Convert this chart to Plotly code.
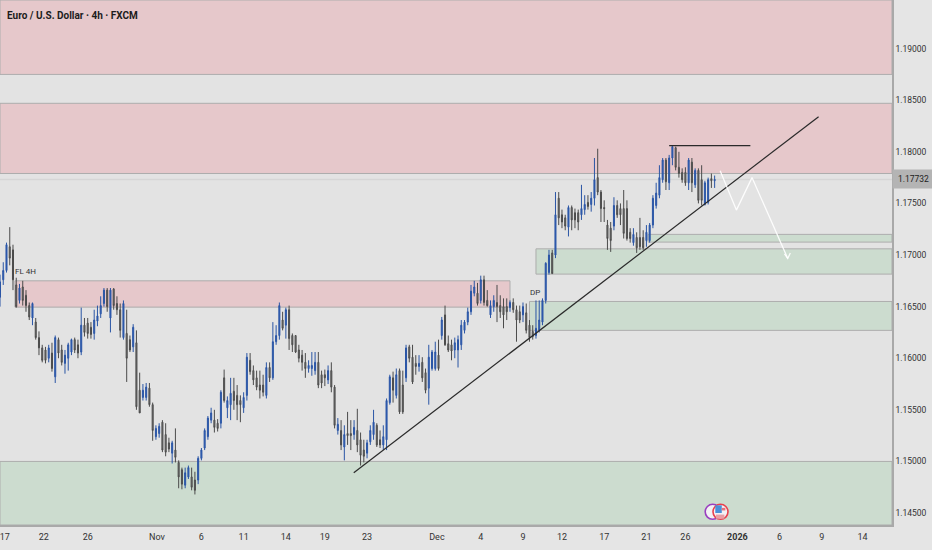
import plotly.graph_objects as go

# Prices are stored as tenths of a pip above 1.1000 (e.g. 656 -> 1.1656)
opens = [659,676,685,708,705,671,656,669,661,651,
 639,635,620,610,608,600,605,582,618,608,
 595,600,606,618,613,606,632,634,630,624,
 636,643,653,666,639,667,653,647,620,624,
 618,611,615,569,562,562,571,555,524,527,
 538,526,518,508,511,499,492,477,485,485,
 482,482,503,513,524,540,540,537,537,581,
 552,555,568,564,559,552,564,598,588,581,
 574,574,564,591,581,616,622,637,632,647,
 622,622,608,603,596,590,590,588,596,584,
 584,579,588,572,530,530,514,527,527,526,
 530,521,511,508,519,526,535,521,516,521,
 557,581,564,588,574,581,611,601,595,592,
 596,586,571,590,590,603,622,642,614,613,
 608,608,613,627,635,645,663,663,656,676,
 656,642,650,654,651,650,650,649,654,647,
 645,642,644,632,626,622,627,635,656,683,
 702,700,755,739,736,727,746,741,741,739,
 744,751,749,755,775,761,746,729,726,728,
 748,745,745,745,722,712,717,717,717,714,
 714,729,748,758,773,792,770,794,804,785,
 780,780,770,790,768,782,773,749,751,774,772.0]
closes = [674,685,710,697,676,650,668,656,651,640,
 653,620,610,598,598,610,590,620,605,596,
 603,613,618,608,605,632,625,624,623,637,
 641,651,666,650,666,651,647,627,653,600,
 608,630,553,547,569,572,555,530,532,534,
 511,509,512,518,504,485,478,489,494,475,
 472,503,511,530,542,547,533,532,567,559,
 559,566,559,555,555,562,601,587,579,572,
 569,567,591,581,616,622,651,629,647,619,
 613,606,600,596,590,593,593,596,574,576,
 581,588,572,535,536,516,526,525,525,533,
 516,506,505,518,530,538,516,516,524,559,
 582,569,584,548,548,610,600,577,592,595,
 581,569,601,606,606,590,637,613,608,607,
 615,618,632,635,645,665,669,653,676,654,
 651,651,656,650,645,642,645,654,647,637,
 637,650,627,620,621,629,637,656,692,700,
 682,739,736,732,728,746,734,734,732,745,
 749,747,755,773,761,745,745,716,714,748,
 739,739,721,716,716,720,707,708,707,722,
 729,755,760,775,792,771,794,805,785,779,
 773,770,792,770,782,753,753,770,773,772,773.2]
highs = [681,693,712,727,710,678,672,675,666,654,
 654,639,626,613,611,613,615,622,620,613,
 608,615,619,620,618,649,639,639,635,647,
 651,660,668,668,668,668,660,653,656,647,
 622,633,627,586,575,576,576,557,535,537,
 540,537,523,520,532,501,494,494,496,494,
 490,505,513,532,544,552,550,541,569,589,
 563,581,581,574,564,567,605,605,593,588,
 588,584,596,596,635,632,654,645,649,651,
 624,622,613,608,605,598,606,606,606,588,
 589,593,596,574,542,540,535,548,540,540,
 551,528,521,521,535,550,537,530,535,561,
 584,587,590,590,588,613,613,613,603,603,
 601,590,613,608,616,618,640,651,622,618,
 620,622,637,637,649,671,675,673,680,680,
 666,656,661,671,661,658,658,656,658,651,
 651,654,653,637,632,656,656,658,693,705,
 705,761,761,744,739,748,748,745,744,768,
 758,758,761,794,803,763,753,734,732,756,
 753,750,763,753,726,726,722,736,724,729,
 731,758,770,787,794,794,797,806,805,800,
 784,785,794,794,784,784,787,772,775,779,777]
lows = [650,671,683,690,666,649,653,651,645,637,
 632,618,603,596,595,596,587,576,600,593,
 585,588,603,605,600,603,621,619,619,618,
 631,639,650,645,625,647,642,620,618,577,
 606,606,550,547,559,559,553,520,521,523,
 509,505,509,498,499,474,473,474,483,472,
 468,478,501,511,521,537,528,529,532,557,
 542,540,550,540,538,547,559,584,574,569,
 561,563,561,577,579,613,618,627,619,608,
 606,605,596,588,581,586,583,584,571,571,
 573,575,567,532,526,511,501,516,511,521,
 509,496,499,503,516,521,514,513,511,511,
 555,557,561,546,546,577,596,575,584,587,
 577,566,555,588,588,588,618,612,606,598,
 600,591,608,624,632,642,660,651,653,651,
 650,639,645,635,639,629,637,645,644,616,
 634,635,624,616,618,619,625,632,653,681,
 682,697,729,726,724,718,724,726,724,734,
 739,744,742,748,758,732,732,705,703,724,
 736,729,716,714,712,709,702,705,705,708,
 712,726,745,755,770,763,763,787,782,775,
 770,767,763,761,765,750,748,748,749,765,765]

x_tick_pos = [1.5,13.5,27,48.3,62,75,88,100,113,134.5,148,161,173,186,199,211,227,240,253,265.5]
x_tick_labels = ["17","22","26","Nov","6","11","14","19","23","Dec","4","9","12","17","21","26","<b>2026</b>","6","9","14"]
y_ticks = [1.145,1.15,1.155,1.16,1.165,1.17,1.175,1.18,1.185,1.19]
x_range = [0, 274.6]
y_range = [1.14384, 1.19471]

last_price = 1.17732
red_zones = [(0,274.6,1.1875,1.19471),(0,274.6,1.1779,1.1847),(4.6,157,1.16495,1.1675)]
green_zones = [(0,274.6,1.14384,1.15),(199.5,274.6,1.17125,1.1720),(165,274.6,1.16815,1.1706),(163,274.6,1.1627,1.1655)]

trend_x = [108.9,252]
trend_y = [1.1489,1.1834]
flat_x = [206,231]
flat_y = [1.1806,1.1806]
path_x = [221.7,226.7,231.5,242.5]
path_y = [1.17816,1.17435,1.1775,1.16967]
head_x = [241.5,242.5,243.3]
head_y = [1.1701,1.16967,1.1702]

def to_price(v):
    return 1.1 + v/10000.0

fig = go.Figure()
fig.add_trace(go.Candlestick(
    x=list(range(len(opens))),
    open=[to_price(v) for v in opens], high=[to_price(v) for v in highs],
    low=[to_price(v) for v in lows], close=[to_price(v) for v in closes],
    increasing=dict(line=dict(color="#2a55a5", width=1), fillcolor="#2f5fbe"),
    decreasing=dict(line=dict(color="#4b4b4b", width=1), fillcolor="#7d7d7d"),
    whiskerwidth=0, hoverinfo="skip", showlegend=False))

for xs, ys, col, w in [(trend_x,trend_y,"#2a2a2a",1.2),(flat_x,flat_y,"#2a2a2a",1.2),
                       (path_x,path_y,"rgba(255,255,255,0.9)",1.3),(head_x,head_y,"rgba(255,255,255,0.9)",1.3)]:
    fig.add_trace(go.Scatter(x=xs,y=ys,mode="lines",line=dict(color=col,width=w),hoverinfo="skip",showlegend=False))

fig.add_trace(go.Scatter(x=[219.4,221.8],y=[1.14512,1.14512],mode="markers",
    marker=dict(size=15,color="#f3f1f4",line=dict(color=["#9a3fc0","#e8414e"],width=1.6)),
    hoverinfo="skip",showlegend=False))

shapes = []
for x0,x1,y0,y1 in red_zones:
    shapes.append(dict(type="rect",x0=x0,x1=x1,y0=y0,y1=y1,fillcolor="#e6c8cb",line=dict(color="#adadad",width=1),layer="below"))
for x0,x1,y0,y1 in green_zones:
    shapes.append(dict(type="rect",x0=x0,x1=x1,y0=y0,y1=y1,fillcolor="#ccdccf",line=dict(color="#adadad",width=1),layer="below"))
shapes.append(dict(type="line",x0=x_range[0],x1=x_range[1],y0=last_price,y1=last_price,line=dict(color="#d6d6d6",width=1.5),layer="below"))
shapes.append(dict(type="rect",x0=220.2,x1=222.2,y0=1.1450,y1=1.14575,fillcolor="#4a90d9",line=dict(width=0),layer="above"))
shapes.append(dict(type="rect",x0=220.4,x1=223.0,y0=1.14445,y1=1.14485,fillcolor="#e8a0a8",line=dict(width=0),layer="above"))
shapes.append(dict(type="rect",x0=222.2,x1=223.3,y0=1.14525,y1=1.1455,fillcolor="#e8707a",line=dict(width=0),layer="above"))

FONT = "Roboto"
annotations = [
    dict(text="<b>Euro / U.S. Dollar · 4h · FXCM</b>",xref="paper",yref="paper",x=0,y=1,xanchor="left",yanchor="top",
         xshift=5,yshift=-8,showarrow=False,font=dict(family=FONT,size=10,color="#1c1c1c")),
    dict(text="FL 4H",x=7.8,y=1.1684,showarrow=False,font=dict(family=FONT,size=8,color="#333333")),
    dict(text="DP",x=164.6,y=1.1664,showarrow=False,font=dict(family=FONT,size=8,color="#333333")),
    dict(text=f"{last_price:.5f}",xref="paper",yref="y",x=1,y=last_price,xanchor="left",showarrow=False,
         width=39,height=16,bgcolor="#b4b4b4",font=dict(family=FONT,size=8.5,color="#222222")),
]

fig.update_layout(
    width=932,height=550,margin=dict(l=0,r=39.5,t=0,b=25,autoexpand=False),
    paper_bgcolor="#e5e5e5",plot_bgcolor="#e3e3e3",boxgap=0.55,shapes=shapes,annotations=annotations,
    font=dict(family=FONT,size=9,color="#333333"),showlegend=False,
    xaxis=dict(range=x_range,tickmode="array",tickvals=x_tick_pos,ticktext=x_tick_labels,rangeslider=dict(visible=False),
               showgrid=False,zeroline=False,showline=True,linecolor="#a9a9a9",linewidth=1.5,ticks="",ticklabeloverflow="allow",
               ticklabelstandoff=2,tickfont=dict(family=FONT,size=9,color="#333333")),
    yaxis=dict(range=y_range,side="right",tickmode="array",tickvals=y_ticks,tickformat=".5f",showgrid=False,zeroline=False,
               showline=True,linecolor="#a9a9a9",linewidth=1.5,ticks="",tickfont=dict(family=FONT,size=8.5,color="#333333")),
)
fig.write_html("out.html", config={"displayModeBar": False},
               post_script="document.body.style.margin='0';document.documentElement.style.background='#e5e5e5';")
